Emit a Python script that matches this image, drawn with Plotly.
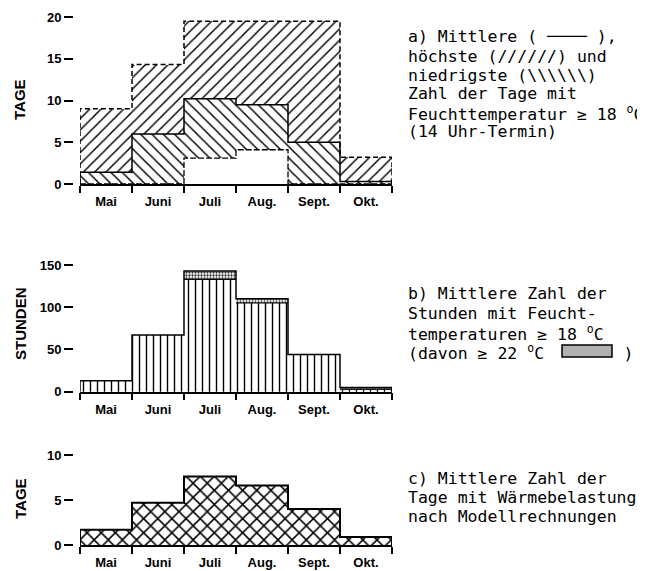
import plotly.graph_objects as go

# ---------------- data ----------------
months = ["Mai", "Juni", "Juli", "Aug.", "Sept.", "Okt."]

# a) Zahl der Tage mit Feuchttemperatur >= 18 °C (14 Uhr-Termin)
tage_mittel = [1.4, 6.0, 10.2, 9.5, 5.0, 0.3]
tage_hoechst = [9.0, 14.3, 19.5, 19.5, 19.5, 3.2]
tage_niedrigst = [0.0, 0.0, 3.1, 4.1, 0.0, 0.0]

# b) Mittlere Zahl der Stunden mit Feuchttemperaturen >= 18 °C (davon >= 22 °C)
stunden_18 = [13, 67, 143, 110, 44, 5]
stunden_22 = [0, 0, 10, 5, 0, 2]

# c) Mittlere Zahl der Tage mit Wärmebelastung
tage_waerme = [1.7, 4.7, 7.6, 6.6, 4.0, 0.9]

yticks_a = [0, 5, 10, 15, 20]
yticks_b = [0, 50, 100, 150]
yticks_c = [0, 5, 10]

text_a = ["a) Mittlere ( ──── ),",
          "höchste (//////) und",
          "niedrigste (\\\\\\\\\\\\)",
          "Zahl der Tage mit",
          "Feuchttemperatur ≥ 18 <sup>o</sup>C",
          "(14 Uhr-Termin)"]
text_b = ["b) Mittlere Zahl der",
          "Stunden mit Feucht-",
          "temperaturen ≥ 18 <sup>o</sup>C",
          "(davon ≥ 22 <sup>o</sup>C        )"]
text_c = ["c) Mittlere Zahl der",
          "Tage mit Wärmebelastung",
          "nach Modellrechnungen"]

# ---------------- helpers ----------------
W, H = 645, 571
OFF = 8  # page body margin offset
n = len(months)
xi = list(range(n))
edges = [i - 0.5 for i in range(n + 1)]


def px(x):
    return (x - OFF) / W


def py(y):
    return 1 - (y - OFF) / H


def step(vals):
    xs = [edges[0]] + edges + [edges[-1]]
    ys = [0] + list(vals) + [vals[-1], 0]
    return xs, ys


def pat(shape, size, solidity, fg="black"):
    return dict(color="white", line=dict(width=0),
                pattern=dict(shape=shape, fgcolor=fg, bgcolor="white",
                             size=size, solidity=solidity, fillmode="replace"))


fig = go.Figure()

# ---------------- panel a ----------------
fig.add_trace(go.Bar(x=xi, y=[m - lo for m, lo in zip(tage_mittel, tage_niedrigst)],
                     base=tage_niedrigst, width=1, marker=pat("\\", 8, 0.18),
                     xaxis="x", yaxis="y", hoverinfo="skip"))
fig.add_trace(go.Bar(x=xi, y=[h - m for h, m in zip(tage_hoechst, tage_mittel)],
                     base=tage_mittel, width=1, marker=pat("/", 8, 0.18),
                     xaxis="x", yaxis="y", hoverinfo="skip"))
sx, sy = step(tage_hoechst)
fig.add_trace(go.Scatter(x=sx, y=sy, mode="lines", line=dict(color="black", width=1.5, dash="5px,3px", shape="hv"),
                         xaxis="x", yaxis="y", hoverinfo="skip"))
sx, sy = step(tage_niedrigst)
fig.add_trace(go.Scatter(x=sx, y=sy, mode="lines", line=dict(color="black", width=1.3, dash="6px,2px", shape="hv"),
                         xaxis="x", yaxis="y", hoverinfo="skip"))
sx, sy = step(tage_mittel)
fig.add_trace(go.Scatter(x=sx, y=sy, mode="lines", line=dict(color="black", width=1.5, shape="hv"),
                         xaxis="x", yaxis="y", hoverinfo="skip"))

# ---------------- panel b ----------------
st_lo = [a - b for a, b in zip(stunden_18, stunden_22)]
fig.add_trace(go.Bar(x=xi, y=st_lo, width=1, marker=pat("|", 7, 0.2),
                     xaxis="x2", yaxis="y2", hoverinfo="skip"))
fig.add_trace(go.Bar(x=xi, y=stunden_22, base=st_lo, width=1, marker=pat(".", 3, 0.45, "#333"),
                     xaxis="x2", yaxis="y2", hoverinfo="skip"))
sx, sy = step(stunden_18)
fig.add_trace(go.Scatter(x=sx, y=sy, mode="lines", line=dict(color="black", width=1.5, shape="hv"),
                         xaxis="x2", yaxis="y2", hoverinfo="skip"))
ix, iy = [], []
for i, (lo, d) in enumerate(zip(st_lo, stunden_22)):
    if d > 0:
        ix += [edges[i], edges[i + 1], None]
        iy += [lo, lo, None]
fig.add_trace(go.Scatter(x=ix, y=iy, mode="lines", line=dict(color="black", width=1.2),
                         xaxis="x2", yaxis="y2", hoverinfo="skip"))

# ---------------- panel c ----------------
fig.add_trace(go.Bar(x=xi, y=tage_waerme, width=1, marker=pat("x", 10, 0.28),
                     xaxis="x3", yaxis="y3", hoverinfo="skip"))
sx, sy = step(tage_waerme)
fig.add_trace(go.Scatter(x=sx, y=sy, mode="lines", line=dict(color="black", width=2, shape="hv"),
                         xaxis="x3", yaxis="y3", hoverinfo="skip"))

# ---------------- axes ----------------
tickfont = dict(family="Liberation Sans", size=13, color="black", weight="bold")
xdom = [px(80), px(392)]


def xaxis(anchor):
    return dict(domain=xdom, range=[edges[0], edges[-1]], anchor=anchor,
                tickmode="array", tickvals=xi, ticktext=months,
                ticks="outside", ticklen=5, tickcolor="rgba(0,0,0,0)",
                showline=True, linecolor="black", linewidth=1.5,
                showgrid=False, zeroline=False, tickfont=tickfont, fixedrange=True,
                minor=dict(tickmode="array", tickvals=edges, ticks="outside",
                           ticklen=7, tickwidth=1.5, tickcolor="black", showgrid=False))


def yaxis(dom, rng, tv):
    return dict(domain=dom, range=rng, anchor="free", position=px(73),
                tickmode="array", tickvals=tv, ticks="outside", ticklen=9,
                tickwidth=1.5, tickcolor="black", showline=False, showgrid=False,
                zeroline=False, tickfont=tickfont, fixedrange=True)


fig.update_layout(
    width=W, height=H, margin=dict(l=0, r=0, t=0, b=0, autoexpand=False),
    paper_bgcolor="white", plot_bgcolor="white",
    showlegend=False, barmode="overlay", bargap=0,
    xaxis=xaxis("y"), xaxis2=xaxis("y2"), xaxis3=xaxis("y3"),
    yaxis=yaxis([py(184), py(17)], [0, 20], yticks_a),
    yaxis2=yaxis([py(391.7), py(265)], [0, 150], yticks_b),
    yaxis3=yaxis([py(545), py(455)], [0, 10], yticks_c),
)

# ---------------- annotations ----------------
ann = []
titlefont = dict(family="Liberation Sans", size=15, color="black", weight="bold")
for t, yc in [("TAGE", 100), ("STUNDEN", 324), ("TAGE", 499)]:
    ann.append(dict(text=t, x=px(20), y=py(yc), xref="paper", yref="paper",
                    textangle=-90, showarrow=False, font=titlefont,
                    xanchor="center", yanchor="middle"))

mono = dict(family="DejaVu Sans Mono", size=16.5, color="black")
for lines, y0, dy in [(text_a, 37, 19), (text_b, 293.5, 19.5), (text_c, 478.5, 19)]:
    for k, t in enumerate(lines):
        ann.append(dict(text=t, x=px(407), y=py(y0 + k * dy), xref="paper", yref="paper",
                        showarrow=False, font=mono, xanchor="left", yanchor="middle",
                        align="left", borderpad=0))
fig.update_layout(annotations=ann)

fig.add_shape(type="rect", xref="paper", yref="paper",
              x0=px(562), x1=px(612), y0=py(357), y1=py(345),
              line=dict(color="black", width=1.5), fillcolor="#b0b0b0")

fig.write_html("out.html")
